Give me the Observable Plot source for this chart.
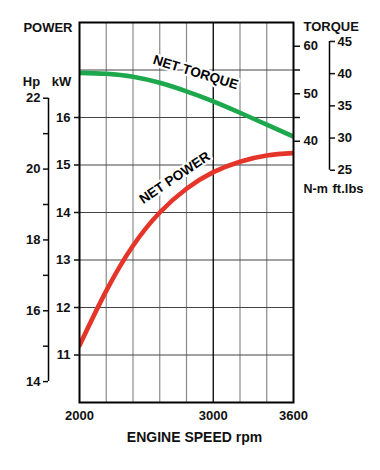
<!DOCTYPE html>
<html>
<head>
<meta charset="utf-8">
<script src="https://cdn.jsdelivr.net/npm/d3@7"></script>
<script src="https://cdn.jsdelivr.net/npm/@observablehq/plot@0.6"></script>
<style>
  html, body { margin: 0; padding: 0; background: #fff; }
</style>
</head>
<body>
<div id="chart"></div>
<script>
// ---- data ----
const rpm      = [2000, 2200, 2400, 2600, 2800, 3000, 3200, 3400, 3600];
const powerKW  = [11.2, 12.35, 13.3, 14.0, 14.5, 14.85, 15.07, 15.2, 15.25];
const torqueNm = [54.4, 54.2, 53.6, 52.3, 50.5, 48.4, 46.0, 43.5, 41.0];

const xTicks      = [2000, 3000, 3600];
const xGrid       = [2200, 2400, 2600, 2800, 3200, 3400];
const kwTicks     = [11, 12, 13, 14, 15, 16];
const kwGrid      = [11, 12, 13, 14, 15, 16, 17];
const hpTicks     = [14, 15, 16, 17, 18, 19, 20, 21, 22];
const nmTicks     = [40, 45, 50, 55, 60];
const ftlbTicks   = [25, 30, 35, 40, 45];

const curveLabels = [
  {text: "NET TORQUE", rpm: 2868, kw: 16.95, rotate: 17},
  {text: "NET POWER",  rpm: 2712, kw: 14.73, rotate: -34}
];

// ---- unit conversions onto the kW scale ----
const nmToKW = nm => (nm + 115) / 10;        // torque axis aligned as drawn
const hpToKW = hp => hp * 0.7457;
const ftToKW = ft => nmToKW(ft * 1.3558);

const power  = rpm.map((r, i) => ({rpm: r, v: powerKW[i]}));
const torque = rpm.map((r, i) => ({rpm: r, v: nmToKW(torqueNm[i])}));

const font = "'Liberation Sans', Arial, Helvetica, sans-serif";

const chart = Plot.plot({
  width: 380,
  height: 470,
  marginTop: 22,
  marginBottom: 68,
  marginLeft: 79,
  marginRight: 87,
  style: {fontFamily: font, fontWeight: "bold", fontSize: "13px", color: "#111", background: "#fff"},
  x: {domain: [2000, 3600]},
  y: {domain: [10, 18]},
  marks: [
    // grid
    Plot.gridX(xGrid, {stroke: "#8a8a8a", strokeOpacity: 1, strokeWidth: 1.2}),
    Plot.gridY(kwGrid, {stroke: "#444", strokeOpacity: 1, strokeWidth: 1}),
    Plot.ruleX([3000], {stroke: "#000", strokeWidth: 1.3}),

    // curve labels (with white halo that interrupts the grid)
    Plot.text(curveLabels, {x: "rpm", y: "kw", text: "text", rotate: "rotate", fontSize: 13.5, fontWeight: "bold",
      fill: "#000", stroke: "#fff", strokeWidth: 4, paintOrder: "stroke"}),

    // curves
    Plot.line(torque, {x: "rpm", y: "v", curve: "natural", stroke: "#1ea84e", strokeWidth: 4.6, clip: "frame"}),
    Plot.line(power,  {x: "rpm", y: "v", curve: "natural", stroke: "#e5352b", strokeWidth: 4.6, clip: "frame"}),

    // frame
    Plot.frame({stroke: "#000", strokeWidth: 2}),

    // x axis
    Plot.axisX(xTicks, {tickSize: 0, tickPadding: 8, tickFormat: "d", fontSize: 13, fontWeight: "bold", label: null}),

    // kW axis (left, on the frame)
    Plot.axisY(kwTicks, {anchor: "left", tickSize: 5, tickPadding: 4, strokeWidth: 1.5, fontSize: 13, label: null}),

    // Hp axis (left, offset)
    Plot.ruleX([2000], {y1: hpToKW(14), y2: hpToKW(22), dx: -31, stroke: "#000", strokeWidth: 1.5}),
    Plot.axisY(hpTicks.map(hpToKW), {anchor: "left", dx: -31, tickSize: 5, tickPadding: 3, strokeWidth: 1.5,
      fontSize: 13, label: null,
      tickFormat: d => { const h = Math.round(d / 0.7457); return h % 2 === 0 ? h : ""; }}),

    // N-m axis (right, on the frame)
    Plot.axisY(nmTicks.map(nmToKW), {anchor: "right", tickSize: 6, tickPadding: 4, strokeWidth: 1.5,
      fontSize: 13, label: null,
      tickFormat: d => { const n = Math.round(d * 10 - 115); return n % 10 === 0 ? n : ""; }}),

    // ft.lbs axis (right, offset)
    Plot.ruleX([3600], {y1: ftToKW(25), y2: ftToKW(45), dx: 36, stroke: "#000", strokeWidth: 1.5}),
    Plot.axisY(ftlbTicks.map(ftToKW), {anchor: "right", dx: 36, tickSize: 5, tickPadding: 3, strokeWidth: 1.5,
      fontSize: 13, label: null,
      tickFormat: d => Math.round((d * 10 - 115) / 1.3558)}),

    // titles / unit labels
    Plot.text(["POWER"], {frameAnchor: "top-left", dx: -7, dy: 5, textAnchor: "end", lineAnchor: "middle", fontSize: 13, fontWeight: "bold"}),
    Plot.text(["Hp"], {frameAnchor: "top-left", dx: -48, dy: 59, textAnchor: "middle", lineAnchor: "middle", fontSize: 13, fontWeight: "bold"}),
    Plot.text(["kW"], {frameAnchor: "top-left", dx: -18, dy: 59, textAnchor: "middle", lineAnchor: "middle", fontSize: 13, fontWeight: "bold"}),
    Plot.text(["TORQUE"], {frameAnchor: "top-right", dx: 10, dy: 4, textAnchor: "start", lineAnchor: "middle", fontSize: 13, fontWeight: "bold"}),
    Plot.text(["N-m"], {frameAnchor: "top-right", dx: 10, dy: 166, textAnchor: "start", lineAnchor: "middle", fontSize: 12.5, fontWeight: "bold"}),
    Plot.text(["ft.lbs"], {frameAnchor: "top-right", dx: 39, dy: 166, textAnchor: "start", lineAnchor: "middle", fontSize: 13, fontWeight: "bold"}),
    Plot.text(["ENGINE SPEED rpm"], {frameAnchor: "bottom", dx: 8, dy: 35, textAnchor: "middle", lineAnchor: "middle", fontSize: 14, fontWeight: "bold"})
  ]
});

document.getElementById("chart").appendChild(chart);
</script>
</body>
</html>
